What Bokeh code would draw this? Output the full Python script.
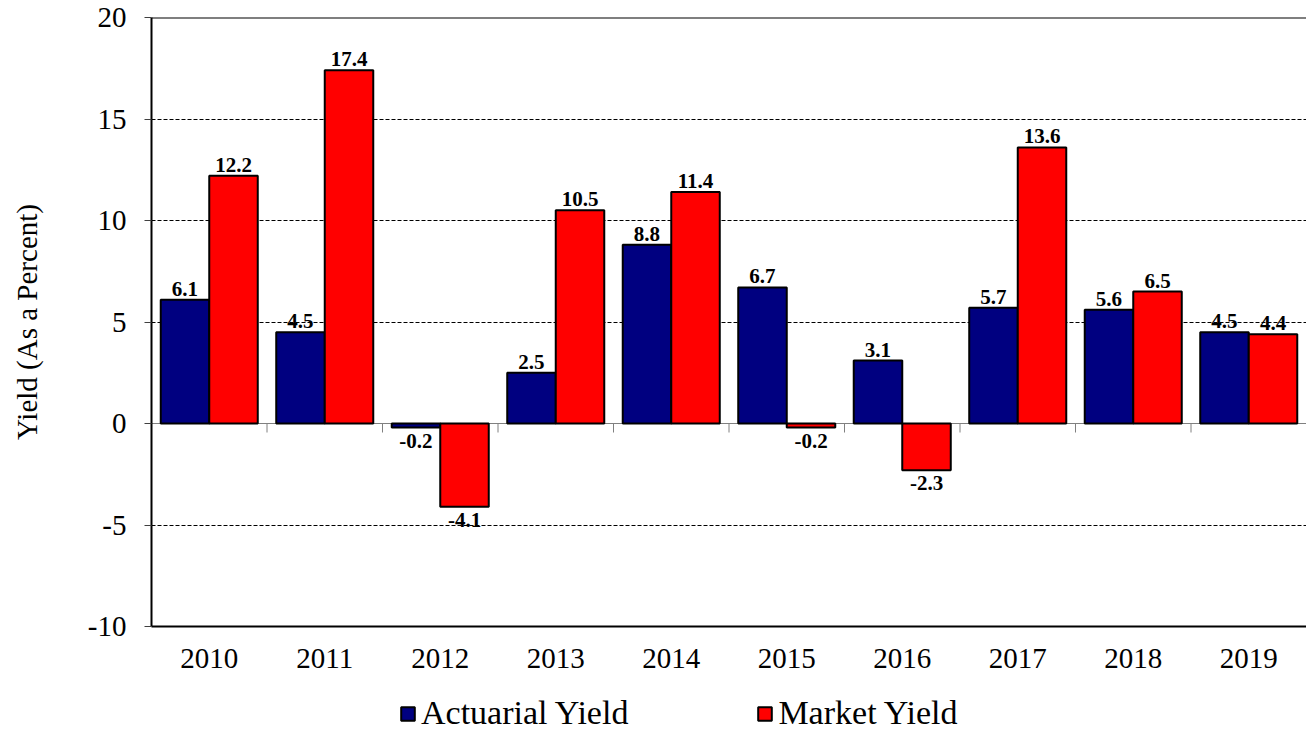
import math
from bokeh.plotting import figure
from bokeh.layouts import column
from bokeh.models import (ColumnDataSource, Range1d, FixedTicker, Span, Legend, LegendItem)
from bokeh.core.properties import value
from bokeh.embed import file_html
from bokeh.resources import INLINE

years = ["2010", "2011", "2012", "2013", "2014", "2015", "2016", "2017", "2018", "2019"]
actuarial = [6.1, 4.5, -0.2, 2.5, 8.8, 6.7, 3.1, 5.7, 5.6, 4.5]
market = [12.2, 17.4, -4.1, 10.5, 11.4, -0.2, -2.3, 13.6, 6.5, 4.4]
series_names = ["Actuarial Yield", "Market Yield"]
y_ticks = [-10, -5, 0, 5, 10, 15, 20]
y_tick_labels = ["-10", "-5", "0", "5", "10", "15", "20"]
grid_ticks = [-5, 5, 10, 15]

FONT = "Liberation Serif"
BLUE = "#000080"
RED = "#FF0000"
BW = 0.42

idx = list(range(len(years)))
xa = [i - BW / 2 for i in idx]
xm = [i + BW / 2 for i in idx]

p = figure(width=1306, height=680, output_backend="svg", toolbar_location=None,
           x_range=Range1d(-0.5, len(years) - 0.5), y_range=Range1d(-10, 20),
           min_border_left=151, min_border_top=17, min_border_bottom=54, min_border_right=0)
p.outline_line_color = None
p.background_fill_color = "white"
p.border_fill_color = "white"

# grid
p.xgrid.grid_line_color = None
p.ygrid.ticker = FixedTicker(ticks=grid_ticks)
p.ygrid.grid_line_color = "black"
p.ygrid.grid_line_dash = "4 2"
p.ygrid.grid_line_width = 1

# zero line and top border
p.add_layout(Span(location=0, dimension="width", line_color="#808080", line_width=1, level="underlay"))
p.add_layout(Span(location=20, dimension="width", line_color="black", line_width=2))

# category boundary ticks on the zero line
bounds = [i + 0.5 for i in idx[:-1]]
p.ray(x=bounds, y=[0] * len(bounds), length=9, length_units="screen", angle=-math.pi / 2,
      line_color="#808080", line_width=1)

p.vbar(x=xa, top=actuarial, bottom=0, width=BW, fill_color=BLUE, line_color="black", line_width=2)
p.vbar(x=xm, top=market, bottom=0, width=BW, fill_color=RED, line_color="black", line_width=2)

# data labels
xs = xa + xm
vals = actuarial + market
pos = ColumnDataSource(dict(x=[x for x, v in zip(xs, vals) if v >= 0],
                            y=[v for v in vals if v >= 0],
                            t=[f"{v:.1f}" for v in vals if v >= 0]))
neg = ColumnDataSource(dict(x=[x for x, v in zip(xs, vals) if v < 0],
                            y=[v for v in vals if v < 0],
                            t=[f"{v:.1f}" for v in vals if v < 0]))
p.text(x="x", y="y", text="t", source=pos, text_align="center", text_baseline="bottom",
       y_offset=-4, text_font=value(FONT), text_font_style="bold", text_font_size="21px",
       text_color="black")
p.text(x="x", y="y", text="t", source=neg, text_align="center", text_baseline="top",
       y_offset=6, text_font=value(FONT), text_font_style="bold", text_font_size="21px",
       text_color="black")

# axes
p.yaxis.ticker = FixedTicker(ticks=y_ticks)
p.yaxis.major_label_overrides = {t: s for t, s in zip(y_ticks, y_tick_labels)}
p.yaxis.major_label_text_font = FONT
p.yaxis.major_label_text_font_size = "29px"
p.yaxis.major_label_text_color = "black"
p.yaxis.major_tick_out = 7
p.yaxis.major_tick_in = 0
p.yaxis.major_tick_line_color = "#404040"
p.yaxis.minor_tick_line_color = None
p.yaxis.axis_line_color = "black"
p.yaxis.axis_line_width = 2
p.yaxis.major_label_standoff = 18
p.yaxis.axis_label = "Yield (As a Percent)"
p.yaxis.axis_label_text_font = FONT
p.yaxis.axis_label_text_font_size = "29px"
p.yaxis.axis_label_text_font_style = "normal"
p.yaxis.axis_label_text_color = "black"
p.yaxis.axis_label_standoff = 42

p.xaxis.ticker = FixedTicker(ticks=idx)
p.xaxis.major_label_overrides = {i: y for i, y in zip(idx, years)}
p.xaxis.major_label_text_font = FONT
p.xaxis.major_label_text_font_size = "29px"
p.xaxis.major_label_text_color = "black"
p.xaxis.major_tick_out = 0
p.xaxis.major_tick_in = 0
p.xaxis.minor_tick_line_color = None
p.xaxis.axis_line_color = "black"
p.xaxis.axis_line_width = 2
p.xaxis.major_label_standoff = 22

# legend strip below the chart
lg = figure(width=1306, height=58, output_backend="svg", toolbar_location=None,
            x_range=Range1d(0, 1), y_range=Range1d(0, 1),
            min_border_left=151, min_border_right=0, min_border_top=0, min_border_bottom=0)
lg.axis.visible = False
lg.grid.visible = False
lg.outline_line_color = None
lg.background_fill_color = "white"
lg.border_fill_color = "white"
la = lg.vbar(x=[0.5], top=[1], width=0.1, fill_color=BLUE, line_color="black", line_width=2, visible=False)
lm = lg.vbar(x=[0.5], top=[1], width=0.1, fill_color=RED, line_color="black", line_width=2, visible=False)
legend = Legend(items=[LegendItem(label=series_names[0], renderers=[la]),
                       LegendItem(label=series_names[1], renderers=[lm])],
                orientation="horizontal", location=(248, 6),
                label_text_font=FONT, label_text_font_size="34px", label_text_color="black",
                glyph_width=17, glyph_height=17, label_standoff=5, spacing=128,
                padding=0, margin=0, border_line_color=None, background_fill_alpha=0,
                click_policy="none")
lg.add_layout(legend, "center")

layout = column(p, lg, spacing=0)
open("out.html", "w").write(file_html(layout, INLINE))
